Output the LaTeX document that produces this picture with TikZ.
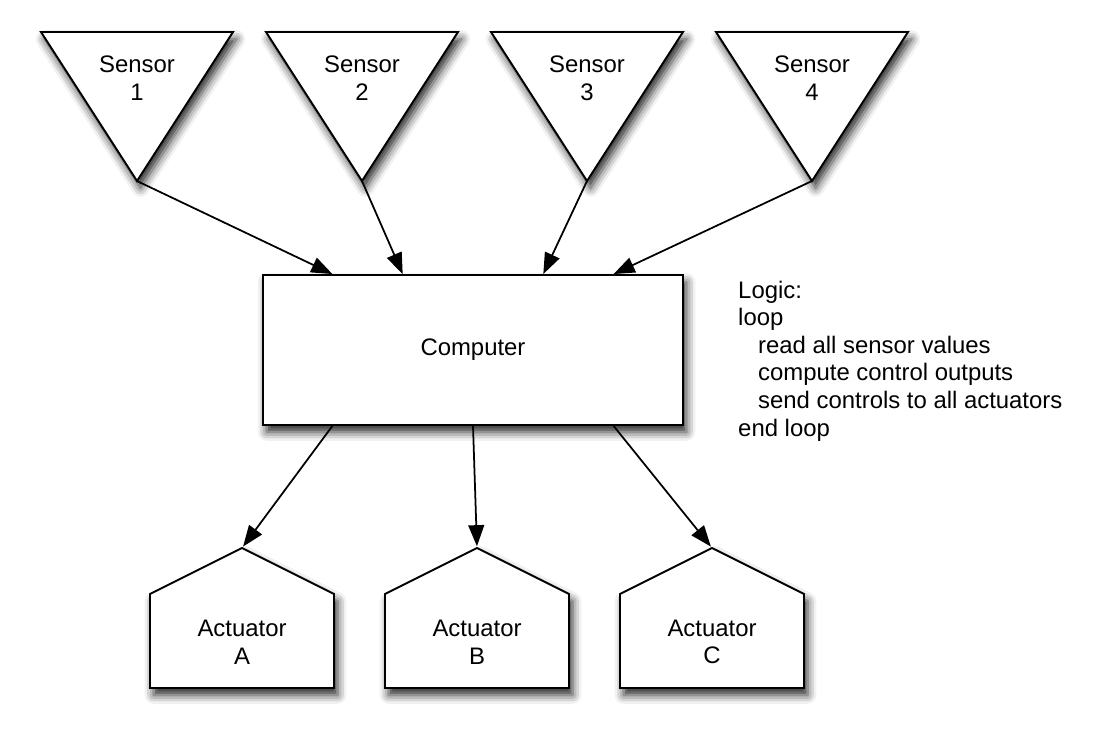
\documentclass[tikz,border=0pt]{standalone}
\usepackage{fontspec}
\setmainfont{Liberation Sans}
\usetikzlibrary{arrows.meta, calc, shadows.blur}

\begin{document}
\begin{tikzpicture}[x=0.02cm, y=-0.02cm,
    every node/.style={font=\fontsize{13.6pt}{15.7pt}\selectfont},
    part/.style={draw, line width=1.1pt, fill=white,
        blur shadow={shadow xshift=2pt, shadow yshift=-4pt, shadow blur radius=5pt, shadow opacity=85}},
    arr/.style={-{Triangle[length=12pt, width=9pt, fill=black]}, line width=1pt}]
    \useasboundingbox (0,0) rectangle (1094,736);

    % sensors
    \foreach \i/\x in {1/137, 2/362, 3/587, 4/812} {
        \path[part] (\x-96,32) -- (\x+96,32) -- (\x,181) -- cycle;
        \node[align=center] (sensor\i) at (\x,78) {Sensor\\\i};
        \coordinate (tip\i) at (\x,181);
    }

    \node[part, minimum width=8.4cm, minimum height=3cm] (comp) at (473,350) {Computer};

    % actuators
    \foreach \n/\x in {A/242, B/477, C/712} {
        \path[part] (\x-92,594) -- (\x,548) -- (\x+92,594) -- (\x+92,688) -- (\x-92,688) -- cycle;
        \node[align=center] (act\n) at (\x,642) {Actuator\\\n};
        \coordinate (roof\n) at (\x,548);
    }

    \node[anchor=west, align=left] (logic) at (732,361) {Logic:\\loop\\
        \hspace*{0.4cm}read all sensor values\\
        \hspace*{0.4cm}compute control outputs\\
        \hspace*{0.4cm}send controls to all actuators\\end loop};

    \draw[arr] (tip1) -- ($(comp.north west)!1/6!(comp.north east)$);
    \draw[arr] (tip2) -- ($(comp.north west)!1/3!(comp.north east)$);
    \draw[arr] (tip3) -- ($(comp.north west)!2/3!(comp.north east)$);
    \draw[arr] (tip4) -- ($(comp.north west)!5/6!(comp.north east)$);
    \draw[arr, shorten >=1pt] ($(comp.south west)!1/6!(comp.south east)$) -- (roofA);
    \draw[arr, shorten >=1pt] (comp.south) -- (roofB);
    \draw[arr, shorten >=1pt] ($(comp.south west)!5/6!(comp.south east)$) -- (roofC);
\end{tikzpicture}
\end{document}
